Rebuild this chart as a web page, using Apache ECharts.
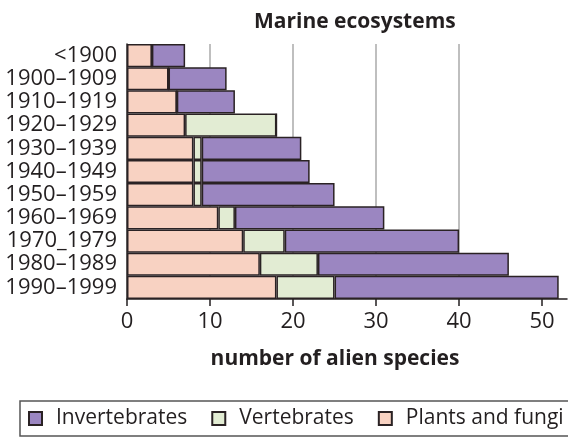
<!DOCTYPE html>
<html>
<head>
<meta charset="utf-8">
<script src="https://cdn.jsdelivr.net/npm/echarts@6/dist/echarts.min.js"></script>
<style>html,body{margin:0;padding:0;background:#fff}#c{width:568px;height:439px}</style>
</head>
<body>
<div id="c"></div>
<script>
const categories = ['<1900','1900–1909','1910–1919','1920–1929','1930–1939','1940–1949','1950–1959','1960–1969','1970_1979','1980–1989','1990–1999'];
const plants = [3,5,6,7,8,8,8,11,14,16,18];
const vertebrates = [0,0,0,11,1,1,1,2,5,7,7];
const invertebrates = [4,7,7,0,12,13,16,18,21,23,27];
const xTicks = [0,10,20,30,40,50];
const seriesNames = ['Plants and fungi','Vertebrates','Invertebrates'];
const legendOrder = ['Invertebrates','Vertebrates','Plants and fungi'];

const FONT = '"Open Sans", sans-serif';
const colors = {'Plants and fungi':'#f8d2c2','Vertebrates':'#e2ecd3','Invertebrates':'#9b86c1'};
const dataByName = {'Plants and fungi':plants,'Vertebrates':vertebrates,'Invertebrates':invertebrates};

const chart = echarts.init(document.getElementById('c'));
chart.setOption({
  animation:false,
  backgroundColor:'#fff',
  title:{
    text:'Marine ecosystems',
    left:249, top:7,
    textStyle:{fontFamily:FONT,fontWeight:'bold',fontSize:21,color:'#231f20'}
  },
  legend:{
    data:legendOrder,
    left:20, top:401, width:700,
    padding:[7,8,7,8],
    borderColor:'#555', borderWidth:1.5,
    itemWidth:13, itemHeight:13, itemGap:24,
    icon:'rect',
    textStyle:{fontFamily:FONT,fontSize:21,color:'#231f20',padding:[0,0,0,9]}
  },
  grid:{left:127,right:1,top:44,bottom:140,containLabel:false},
  xAxis:{
    type:'value', min:0, max:53,
    name:'number of alien species',
    nameLocation:'middle', nameGap:50,
    nameTextStyle:{fontFamily:FONT,fontWeight:'bold',fontSize:21,color:'#231f20',padding:[0,24,0,0]},
    axisLine:{show:true,lineStyle:{color:'#231f20',width:1.5}},
    axisTick:{show:true,length:7,lineStyle:{color:'#231f20',width:1.5},customValues:xTicks},
    axisLabel:{fontFamily:FONT,fontSize:22,color:'#231f20',margin:12,customValues:xTicks},
    splitLine:{show:true,showMinLine:false,showMaxLine:false,lineStyle:{color:'#aaaaaa',width:1.5}},
    interval:10
  },
  yAxis:{
    type:'category', data:categories, inverse:true,
    axisLine:{show:true,lineStyle:{color:'#231f20',width:1.5}},
    axisTick:{show:false},
    axisLabel:{fontFamily:FONT,fontSize:22,color:'#231f20',margin:10,interval:0,hideOverlap:false}
  },
  series: seriesNames.map(n=>({
    name:n, type:'bar', stack:'total',
    data:dataByName[n],
    barCategoryGap:'0%',
    itemStyle:{color:colors[n],borderColor:'#2a2224',borderWidth:1.5}
  }))
});
</script>
</body>
</html>
